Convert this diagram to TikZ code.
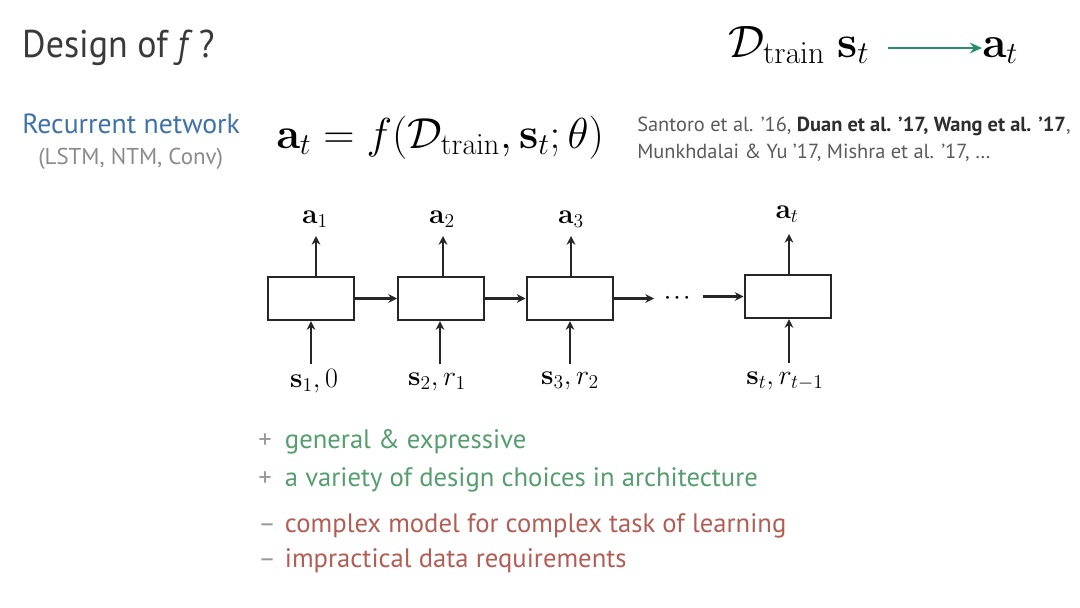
\RequirePackage{fix-cm}
\documentclass[tikz,border=0pt]{standalone}
\usepackage{amsmath}
\usepackage{bm}
\usepackage[no-math]{fontspec}
\setmainfont{PT Sans}
\usetikzlibrary{arrows.meta}
\definecolor{titlegray}{HTML}{3A3A3A}
\definecolor{subgray}{HTML}{8A8A8A}
\definecolor{citegray}{HTML}{5A5A5A}
\definecolor{citedark}{HTML}{2E2E2E}
\definecolor{netblue}{HTML}{3F72A8}
\definecolor{teal}{HTML}{2A8C6E}
\definecolor{progreen}{HTML}{559E6E}
\definecolor{conred}{HTML}{B25E55}
\definecolor{signgray}{HTML}{9A9A9A}
\tikzset{
  cell/.style={draw=black!85, line width=1.5pt, minimum width=64.5pt, minimum height=32.5pt, inner sep=0pt},
  flow/.style={line width=1.9pt, draw=black!85, -{Stealth[length=6.5pt,width=6.5pt]}},
  lbl/.style={inner sep=0pt, font=\fontsize{21}{24}\selectfont},
  txt/.style={inner sep=0pt, anchor=base west},
}
\begin{document}
\begin{tikzpicture}[x=0.75pt,y=-0.75pt]
\useasboundingbox[fill=white] (0,0) rectangle (1080,607);

% title
\node[txt, text=titlegray, font=\fontsize{29}{34}\selectfont, xscale=0.93] (title) at (22,57) {Design of \textit{f}\,?};

% top-right formula
\node[txt, font=\fontsize{34}{38}\selectfont] (dts) at (728,57) {$\mathcal{D}_{\mathrm{train}}\ \mathbf{s}_t$};
\node[txt, font=\fontsize{33}{38}\selectfont] (atop) at (982,57) {$\mathbf{a}_t$};
\coordinate (arrstart) at (888,48);
\draw[teal, line width=1.4pt, -{Stealth[length=9pt,width=8pt]}] (arrstart) -- (arrstart -| atop.west);

% left labels
\node[txt, text=netblue, font=\fontsize{20.8}{24}\selectfont] (rn) at (22,133) {Recurrent network};
\node[txt, text=subgray, font=\fontsize{17.2}{20}\selectfont] (lstm) at (38,164) {(LSTM, NTM, Conv)};

% main equation
\node[txt, font=\fontsize{32.5}{36}\selectfont] (eq) at (276,148) {$\mathbf{a}_t = f(\mathcal{D}_{\mathrm{train}}, \mathbf{s}_t; \theta)$};

% citations
\node[txt, text=citegray, font=\fontsize{15.3}{18}\selectfont] (cite1) at (637,131) {Santoro et al. ’16, {\color{citedark}\bfseries Duan et al. ’17, Wang et al. ’17},};
\node[txt, text=citegray, font=\fontsize{15.3}{18}\selectfont] (cite2) at (637,158) {Munkhdalai \& Yu ’17, Mishra et al. ’17, \dots};

% cells
\node[cell] (c1) at (311,298.5) {};
\node[cell] (c2) at (441,298.5) {};
\node[cell] (c3) at (569.5,298.5) {};
\node[cell] (c4) at (787.5,296.5) {};

% outputs
\node[lbl] (a1) at (315,219) {$\mathbf{a}_1$};
\node[lbl] (a2) at (442,219) {$\mathbf{a}_2$};
\node[lbl] (a3) at (571,219) {$\mathbf{a}_3$};
\node[lbl] (a4) at (787,214) {$\mathbf{a}_t$};
\coordinate (o1) at (316,236);
\coordinate (o2) at (443,236);
\coordinate (o3) at (571,236);
\coordinate (o4) at (789,234);
\draw[flow] (c1.north -| o1) -- (o1);
\draw[flow] (c2.north -| o2) -- (o2);
\draw[flow] (c3.north -| o3) -- (o3);
\draw[flow] (c4.north -| o4) -- (o4);

% inputs
\node[lbl] (s1) at (314,381) {$\mathbf{s}_1, 0$};
\node[lbl] (s2) at (437,382) {$\mathbf{s}_2, r_1$};
\node[lbl] (s3) at (570,381) {$\mathbf{s}_3, r_2$};
\node[lbl] (s4) at (785,381) {$\mathbf{s}_t, r_{t-1}$};
\coordinate (i1) at (311,364);
\coordinate (i2) at (440,364);
\coordinate (i3) at (570,364);
\coordinate (i4) at (789,363);
\draw[flow] (i1) -- (c1.south -| i1);
\draw[flow] (i2) -- (c2.south -| i2);
\draw[flow] (i3) -- (c3.south -| i3);
\draw[flow] (i4) -- (c4.south -| i4);

% recurrent links
\node[inner sep=0pt, font=\fontsize{14}{16}\selectfont] (dots) at (679,298) {$\bm{\cdots}$};
\coordinate (e3) at (654,298.5);
\coordinate (b4) at (703,296.5);
\draw[flow] (c1.east) -- (c2.west);
\draw[flow] (c2.east) -- (c3.west);
\draw[flow] (c3.east) -- (e3);
\draw[flow] (b4) -- (c4.west);

% pros / cons
\node[txt, font=\fontsize{20}{23}\selectfont] (p1) at (258,448) {\makebox[20pt][l]{\color{signgray}+}\color{progreen}general \& expressive};
\node[txt, font=\fontsize{20}{23}\selectfont] (p2) at (258,486) {\makebox[20pt][l]{\color{signgray}+}\color{progreen}a variety of design choices in architecture};
\node[txt, font=\fontsize{20}{23}\selectfont] (n1) at (258,532) {\makebox[20pt][l]{\color{signgray}–}\color{conred}complex model for complex task of learning};
\node[txt, font=\fontsize{20}{23}\selectfont] (n2) at (258,567) {\makebox[20pt][l]{\color{signgray}–}\color{conred}impractical data requirements};
\end{tikzpicture}
\end{document}
